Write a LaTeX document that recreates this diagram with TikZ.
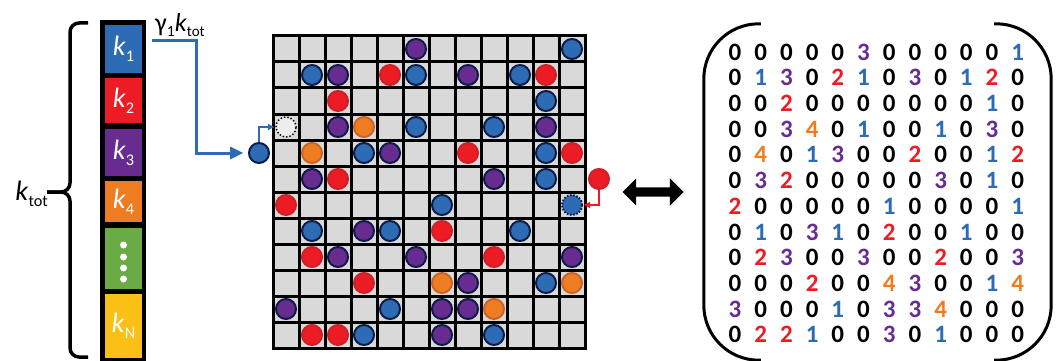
\documentclass[tikz,border=0pt]{standalone}
\usepackage{fontspec}
\setmainfont{Carlito}
\definecolor{lbblue}{RGB}{46,107,181}
\definecolor{lbred}{RGB}{237,28,36}
\definecolor{lbpurple}{RGB}{104,44,145}
\definecolor{lborange}{RGB}{238,125,34}
\definecolor{lbgreen}{RGB}{106,171,70}
\definecolor{lbyellow}{RGB}{251,192,22}
\definecolor{lbnavy}{RGB}{12,28,70}
\definecolor{lbdarkred}{RGB}{205,33,42}
\definecolor{lbdarkorange}{RGB}{200,100,40}
\definecolor{lbcell}{RGB}{217,217,217}
\colorlet{entry0}{black}
\colorlet{entry1}{lbblue}
\colorlet{entry2}{lbred}
\colorlet{entry3}{lbpurple}
\colorlet{entry4}{lborange}
\colorlet{rim1}{lbnavy}
\colorlet{rim2}{lbdarkred}
\colorlet{rim3}{lbnavy}
\colorlet{rim4}{lbdarkorange}
\usetikzlibrary{arrows.meta,positioning,shapes.arrows,calc}

\newcommand{\kidx}[1]{\textit{k}\raisebox{-0.22em}{\scalebox{0.58}{#1}}}
\newcommand{\occupancy}{%
  {0,0,0,0,0,3,0,0,0,0,0,1},
  {0,1,3,0,2,1,0,3,0,1,2,0},
  {0,0,2,0,0,0,0,0,0,0,1,0},
  {0,0,3,4,0,1,0,0,1,0,3,0},
  {0,4,0,1,3,0,0,2,0,0,1,2},
  {0,3,2,0,0,0,0,0,3,0,1,0},
  {2,0,0,0,0,0,1,0,0,0,0,1},
  {0,1,0,3,1,0,2,0,0,1,0,0},
  {0,2,3,0,0,3,0,0,2,0,0,3},
  {0,0,0,2,0,0,4,3,0,0,1,4},
  {3,0,0,0,1,0,3,3,4,0,0,0},
  {0,2,2,1,0,0,3,0,1,0,0,0}}

\begin{document}
\begin{tikzpicture}[x=1pt, y=-1pt,
  species/.style={
    rectangle, minimum width=37pt, inner sep=0pt,
    text=white, font=\fontsize{28}{28}\selectfont
  },
  ball/.style={circle, minimum size=20pt, inner sep=0pt, line width=2pt},
  entry/.style={font=\fontsize{25}{25}\selectfont\bfseries, inner sep=0pt},
  feed/.style={line width=3pt, draw=lbblue},
  hop/.style={line width=2pt},
  paren/.style={line width=3pt, rounded corners=55pt}
]
\useasboundingbox (0,0) rectangle (1058,361);

% species bar
\node[fill=black, minimum width=46pt, minimum height=345pt, inner sep=0pt] (bar) at (123,192.5) {};
\node[species, fill=lbblue,   minimum height=48pt] (k1) at (123.5,49)    {\kidx{1}};
\node[species, fill=lbred,    minimum height=45pt] (k2) at (123.5,100.5) {\kidx{2}};
\node[species, fill=lbpurple, minimum height=47pt] (k3) at (123.5,152.5) {\kidx{3}};
\node[species, fill=lborange, minimum height=41pt] (k4) at (123.5,201.5) {\kidx{4}};
\node[species, fill=lbgreen,  minimum height=61pt] (kdots) at (123.5,258.5) {};
\node[species, fill=lbyellow, minimum height=64pt] (kN) at (123.5,326)   {\kidx{N}};
\foreach \y in {245,257,268,279}
  \node[circle, fill=white, minimum size=7pt, inner sep=0pt] at (123.5,\y) {};

\draw[line width=3.5pt, rounded corners=9pt] (88,23) -| (70,192) -- (47,192);
\draw[line width=3.5pt, rounded corners=9pt] (47,192) -- (70,192) |- (88,357);
\node[anchor=east, font=\fontsize{28}{28}\selectfont, inner sep=0pt] (ktot) at (48,194) {\kidx{tot}};
\node[font=\fontsize{26}{26}\selectfont, inner sep=0pt] (flux) at (180,25) {γ\raisebox{-0.22em}{\scalebox{0.6}{1}}\kidx{tot}};

% lattice
\node[draw=black, fill=lbcell, line width=3pt, minimum size=312pt, inner sep=0pt] (board) at (429,192) {};
\foreach \i in {1,...,11} {
  \draw[line width=3pt] (273+26*\i,36) -- ++(0,312);
  \draw[line width=3pt] (273,36+26*\i) -- ++(312,0);
}

% lattice and matrix from the same occupancy
\foreach \row [count=\r] in \occupancy {
  \foreach \v [count=\c] in \row {
    \node[entry, text=entry\v] (e-\r-\c) at (735+25.7*\c-25.7, 52+25.7*\r-25.7) {\v};
    \ifnum\v>0\relax
      \ifnum\numexpr100*\r+\c\relax=712\relax\else
        \node[ball, fill=entry\v, draw=rim\v] (b-\r-\c) at (260+26*\c, 23+26*\r) {};
      \fi
    \fi
  }
}

\node[ball, fill=white!93!black, draw=black, dash pattern=on 0pt off 3.4pt, line cap=round] (ghost) at (286,127) {};
\node[ball, fill=lbblue, draw=lbnavy, dash pattern=on 1.6pt off 1.6pt] (moved) at (572,205) {};
\node[ball, fill=lbblue, draw=lbnavy] (inball) at (259,153) {};
\node[ball, fill=lbred, draw=lbdarkred] (outball) at (599,179) {};

% connectors with their heads
\draw[feed, shorten >=16pt] ([xshift=10pt, yshift=8pt]k1.east) -- ++(44,0) |- (inball);
\fill[lbblue] ([xshift=-5pt]inball.west) -- ++(-13,-6.5) -- ++(0,13) -- cycle;
\draw[hop, draw=lbblue, shorten >=5pt] (inball.north) |- (ghost);
\fill[lbblue] ([xshift=-1pt]ghost.west) -- ++(-6,-3.2) -- ++(0,6.4) -- cycle;
\draw[hop, draw=lbred, shorten >=5pt] (outball.south) |- (moved);
\fill[lbred] ([xshift=1pt]moved.east) -- ++(6,-3.2) -- ++(0,6.4) -- cycle;

% matrix
\node[minimum width=347pt, minimum height=336pt, inner sep=0pt] (adj) at (877.5,192) {};
\draw[paren] ([xshift=57pt]adj.north west) -- (adj.north west) -- (adj.south west) -- ([xshift=57pt]adj.south west);
\draw[paren] ([xshift=-57pt]adj.north east) -- (adj.north east) -- (adj.south east) -- ([xshift=-57pt]adj.south east);

\node[double arrow, fill=black, inner sep=4.5pt, double arrow head extend=9pt,
  double arrow head indent=0pt, minimum height=61pt] (swap) at (653,192) {};
\end{tikzpicture}
\end{document}
